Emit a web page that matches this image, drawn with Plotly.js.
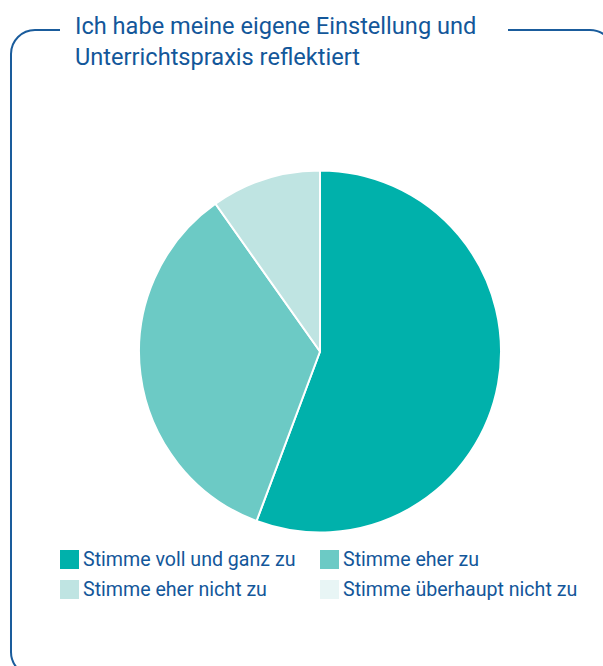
<!DOCTYPE html>
<html>
<head>
<meta charset="utf-8">
<script src="https://cdn.plot.ly/plotly-3.0.1.min.js"></script>
<style>html,body{margin:0;padding:0;background:#fff;}#chart{width:603px;height:666px;}</style>
</head>
<body>
<div id="chart"></div>
<script>
// ---- data ----
const chartTitle = 'Ich habe meine eigene Einstellung und<br>Unterrichtspraxis reflektiert';
const labels = ['Stimme voll und ganz zu', 'Stimme eher zu', 'Stimme eher nicht zu', 'Stimme überhaupt nicht zu'];
const values = [55.7, 34.5, 9.8, 0];
const colors = ['#00b1ab', '#6ccac5', '#bfe4e2', '#e8f5f5'];

// ---- layout helpers (pixel -> paper) ----
const W = 603, H = 666;
const px = x => x / W;
const py = y => 1 - y / H;
const textColor = '#13579a';
const borderColor = '#1a5c9c';

// rounded frame with a gap in the top edge for the title
const L = 11, T = 30, R = 614, B = 676, r = 24, k = 0.5523 * r;
const P = (x, y) => px(x).toFixed(5) + ',' + py(y).toFixed(5);
const framePath =
  'M' + P(60, T) + ' L' + P(L + r, T) +
  ' C' + P(L + r - k, T) + ' ' + P(L, T + r - k) + ' ' + P(L, T + r) +
  ' L' + P(L, B - r) +
  ' C' + P(L, B - r + k) + ' ' + P(L + r - k, B) + ' ' + P(L + r, B) +
  ' L' + P(R - r, B) +
  ' C' + P(R - r + k, B) + ' ' + P(R, B - r + k) + ' ' + P(R, B - r) +
  ' L' + P(R, T + r) +
  ' C' + P(R, T + r - k) + ' ' + P(R - r + k, T) + ' ' + P(R - r, T) +
  ' L' + P(508, T);

const shapes = [{
  type: 'path', xref: 'paper', yref: 'paper', path: framePath,
  line: {color: borderColor, width: 2}, fillcolor: 'rgba(0,0,0,0)'
}];

const annotations = [{
  xref: 'paper', yref: 'paper', x: px(73), y: py(10), xanchor: 'left', yanchor: 'top',
  align: 'left', showarrow: false, text: chartTitle,
  font: {family: 'Roboto, sans-serif', size: 23.6, color: textColor}
}];

// custom legend (2 columns)
const colX = [60, 320], rowY = [559.5, 589.5], sw = 19;
labels.forEach((lab, i) => {
  const cx = colX[i % 2], cy = rowY[Math.floor(i / 2)];
  shapes.push({
    type: 'rect', xref: 'paper', yref: 'paper',
    x0: px(cx), x1: px(cx + sw), y0: py(cy - sw / 2), y1: py(cy + sw / 2),
    fillcolor: colors[i], line: {width: 0}
  });
  annotations.push({
    xref: 'paper', yref: 'paper', x: px(cx + sw + 2), y: py(cy), xanchor: 'left', yanchor: 'middle',
    showarrow: false, text: lab,
    font: {family: 'Roboto, sans-serif', size: 19.6, color: textColor}
  });
});

const cxp = 320, cyp = 351.5, rad = 181;
const data = [{
  type: 'pie',
  labels: labels,
  values: values,
  sort: false,
  direction: 'clockwise',
  rotation: 0,
  textinfo: 'none',
  hoverinfo: 'label+percent',
  showlegend: false,
  marker: {colors: colors, line: {color: '#ffffff', width: 2}},
  domain: {x: [px(cxp - rad), px(cxp + rad)], y: [py(cyp + rad), py(cyp - rad)]}
}];

const layout = {
  width: W, height: H,
  margin: {l: 0, r: 0, t: 0, b: 0},
  paper_bgcolor: '#ffffff',
  showlegend: false,
  shapes: shapes,
  annotations: annotations,
  font: {family: 'Roboto, sans-serif'}
};

Plotly.newPlot('chart', data, layout, {displayModeBar: false, staticPlot: true});
</script>
</body>
</html>
